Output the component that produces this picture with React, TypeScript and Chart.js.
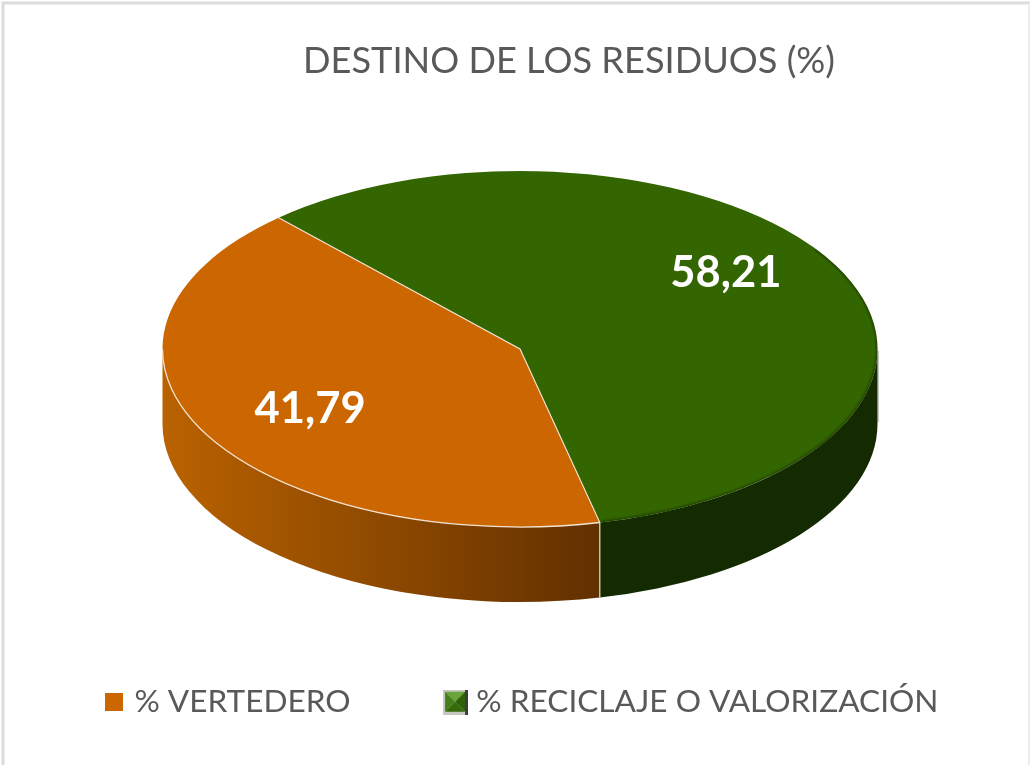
import React, { useEffect, useRef } from "react";
import { Chart, registerables } from "chart.js";

Chart.register(...registerables);

const chartTitle = "DESTINO DE LOS RESIDUOS (%)";
const categories = ["% VERTEDERO", "% RECICLAJE O VALORIZACIÓN"];
const values = [41.79, 58.21];
const sliceColors = ["#CC6600", "#336600"];

const FONT = "Lato, 'Open Sans', sans-serif";
const TEXT = "#595959";
// 3D projection of the pie
const CX = 520, CY = 349, RX = 357.5, RY = 178, DEPTH = 75;
// Label placement, as a fraction of the ellipse radii
const labelOffsets = [[-0.587, 0.338], [0.576, -0.425]];

function orangeSwatch() {
  const c = document.createElement("canvas");
  c.width = 18; c.height = 18;
  const g = c.getContext("2d")!;
  g.fillStyle = sliceColors[0];
  g.fillRect(0, 0, 18, 18);
  return c;
}

function greenSwatch() {
  const c = document.createElement("canvas");
  c.width = 25; c.height = 25;
  const g = c.getContext("2d")!;
  g.fillStyle = "#c4c8c0"; g.fillRect(0, 0, 25, 25);
  g.fillStyle = "#3a3f38"; g.fillRect(22, 0, 3, 25);
  const a = 2, b = 22;
  const m = 12;
  const tri = (pts: number[][], col: string) => {
    g.fillStyle = col; g.beginPath();
    pts.forEach((p, i) => (i ? g.lineTo(p[0], p[1]) : g.moveTo(p[0], p[1])));
    g.closePath(); g.fill();
  };
  tri([[a, a], [b, a], [m, m]], "#6aa53a");
  tri([[a, a], [a, b], [m, m]], "#44801a");
  tri([[b, a], [b, b], [m, m]], "#2f6208");
  tri([[a, b], [b, b], [m, m]], "#346a0a");
  return c;
}

function frontRanges(start: number, end: number) {
  const out: number[][] = [];
  const T = Math.PI * 2;
  for (let k = -1; k <= 1; k++) {
    const s = Math.max(start + k * T, 0), e = Math.min(end + k * T, Math.PI);
    if (e > s) out.push([s, e]);
  }
  return out;
}

const pie3d = {
  id: "pie3d",
  afterLayout(chart: any) {
    chart.titleBlock.left += 54; chart.titleBlock.right += 54;
    chart.legend.left += 8.5; chart.legend.right += 8.5;
  },
  beforeDraw(chart: any) {
    const ctx = chart.ctx;
    ctx.save();
    ctx.strokeStyle = "#dcdcdc"; ctx.lineWidth = 3;
    ctx.beginPath();
    ctx.moveTo(3, 765); ctx.lineTo(3, 3); ctx.lineTo(1030, 3);
    ctx.stroke();
    ctx.strokeStyle = "#ececec"; ctx.lineWidth = 2;
    ctx.beginPath(); ctx.moveTo(1029, 3); ctx.lineTo(1029, 765); ctx.stroke();
    ctx.restore();
  },
  beforeDatasetsDraw(chart: any) {
    const ctx = chart.ctx;
    const arcs = chart.getDatasetMeta(0).data;
    ctx.save();
    // faint halo on the right edge of the wall
    ctx.strokeStyle = "rgba(150,155,150,0.55)"; ctx.lineWidth = 1.5;
    ctx.beginPath(); ctx.moveTo(CX + RX + 0.8, CY + 2); ctx.lineTo(CX + RX + 0.8, CY + DEPTH - 2); ctx.stroke();
    arcs.forEach((arc: any, i: number) => {
      frontRanges(arc.startAngle, arc.endAngle).forEach(([s, e]) => {
        ctx.beginPath();
        ctx.ellipse(CX, CY, RX, RY, 0, s, e);
        ctx.ellipse(CX, CY + DEPTH, RX, RY, 0, e, s, true);
        ctx.closePath();
        if (i === 0) {
          const gr = ctx.createLinearGradient(CX - RX, 0, CX + 80, 0);
          gr.addColorStop(0, "#BA6200");
          gr.addColorStop(1, "#623000");
          ctx.fillStyle = gr;
        } else {
          ctx.fillStyle = "#142A00";
        }
        ctx.fill();
      });
    });
    const a0 = arcs[0];
    const sx = Math.cos(a0.startAngle), sy = Math.sin(a0.startAngle);
    ctx.strokeStyle = "#E6DDD2"; ctx.lineWidth = 1.2;
    ctx.beginPath();
    ctx.moveTo(CX + RX * sx, CY + RY * sy);
    ctx.lineTo(CX + RX * sx, CY + RY * sy + DEPTH);
    ctx.stroke();
    ctx.restore();
    // map the library's circle onto the ellipse
    ctx.save();
    const r = a0.outerRadius;
    ctx.translate(CX, CY);
    ctx.scale(RX / r, RY / r);
    ctx.translate(-a0.x, -a0.y);
  },
  afterDatasetsDraw(chart: any) {
    const ctx = chart.ctx;
    ctx.restore();
    const arcs = chart.getDatasetMeta(0).data;
    const [a] = arcs;
    // soft dark rim on the green slice
    ctx.save();
    ctx.beginPath();
    ctx.ellipse(CX, CY, RX, RY, 0, 0, Math.PI * 2);
    ctx.clip();
    ctx.filter = "blur(1.2px)";
    ctx.strokeStyle = "rgba(20,42,0,0.6)"; ctx.lineWidth = 3;
    ctx.beginPath();
    ctx.ellipse(CX, CY, RX, RY, 0, -0.6, a.startAngle - 0.005);
    ctx.stroke();
    ctx.restore();
    // pale edges of the orange slice
    ctx.save();
    ctx.strokeStyle = "#F3E3D3"; ctx.lineWidth = 1.3;
    ctx.beginPath();
    ctx.ellipse(CX, CY, RX, RY, 0, a.startAngle, Math.PI);
    ctx.stroke();
    ctx.lineWidth = 1.1;
    ctx.beginPath();
    ctx.moveTo(CX + RX * Math.cos(a.startAngle), CY + RY * Math.sin(a.startAngle));
    ctx.lineTo(CX, CY);
    ctx.lineTo(CX + RX * Math.cos(a.endAngle), CY + RY * Math.sin(a.endAngle));
    ctx.stroke();
    ctx.fillStyle = "#fff";
    ctx.font = `bold 43.5px ${FONT}`;
    ctx.textAlign = "center"; ctx.textBaseline = "middle";
    values.forEach((v, i) => {
      const txt = v.toFixed(2).replace(".", ",");
      ctx.fillText(txt, CX + RX * labelOffsets[i][0], CY + RY * labelOffsets[i][1]);
    });
    ctx.restore();
  },
};

export default function App() {
  const ref = useRef<HTMLCanvasElement>(null);
  useEffect(() => {
    const swatches = [orangeSwatch(), greenSwatch()];
    const chart = new Chart(ref.current!, {
      type: "pie",
      data: {
        labels: categories,
        datasets: [{ data: values, backgroundColor: sliceColors, borderWidth: 0, clip: false } as any],
      },
      options: {
        responsive: false,
        animation: false,
        events: [],
        rotation: 167.1,
        layout: { padding: { top: 40, bottom: 37, left: 0, right: 0 } },
        plugins: {
          tooltip: { enabled: false },
          title: {
            display: true,
            text: chartTitle,
            color: TEXT,
            font: { family: FONT, size: 36.2, weight: "normal" },
            padding: { top: 0, bottom: 20 },
          },
          legend: {
            display: true,
            position: "bottom",
            labels: {
              color: TEXT,
              font: { family: FONT, size: 31.6 },
              usePointStyle: true,
              pointStyleWidth: 10,
              padding: 100,
              generateLabels: () =>
                categories.map((text, i) => ({
                  text,
                  fontColor: TEXT,
                  pointStyle: swatches[i],
                  fillStyle: sliceColors[i],
                  strokeStyle: sliceColors[i],
                  lineWidth: 0,
                  hidden: false,
                  index: i,
                })),
            },
          },
        },
      } as any,
      plugins: [pie3d],
    });
    return () => chart.destroy();
  }, []);
  return (
    <div style={{ position: "absolute", left: 0, top: 0, width: 1030, height: 765 }}>
      <canvas ref={ref} width={1030} height={765} style={{ display: "block" }} />
    </div>
  );
}
